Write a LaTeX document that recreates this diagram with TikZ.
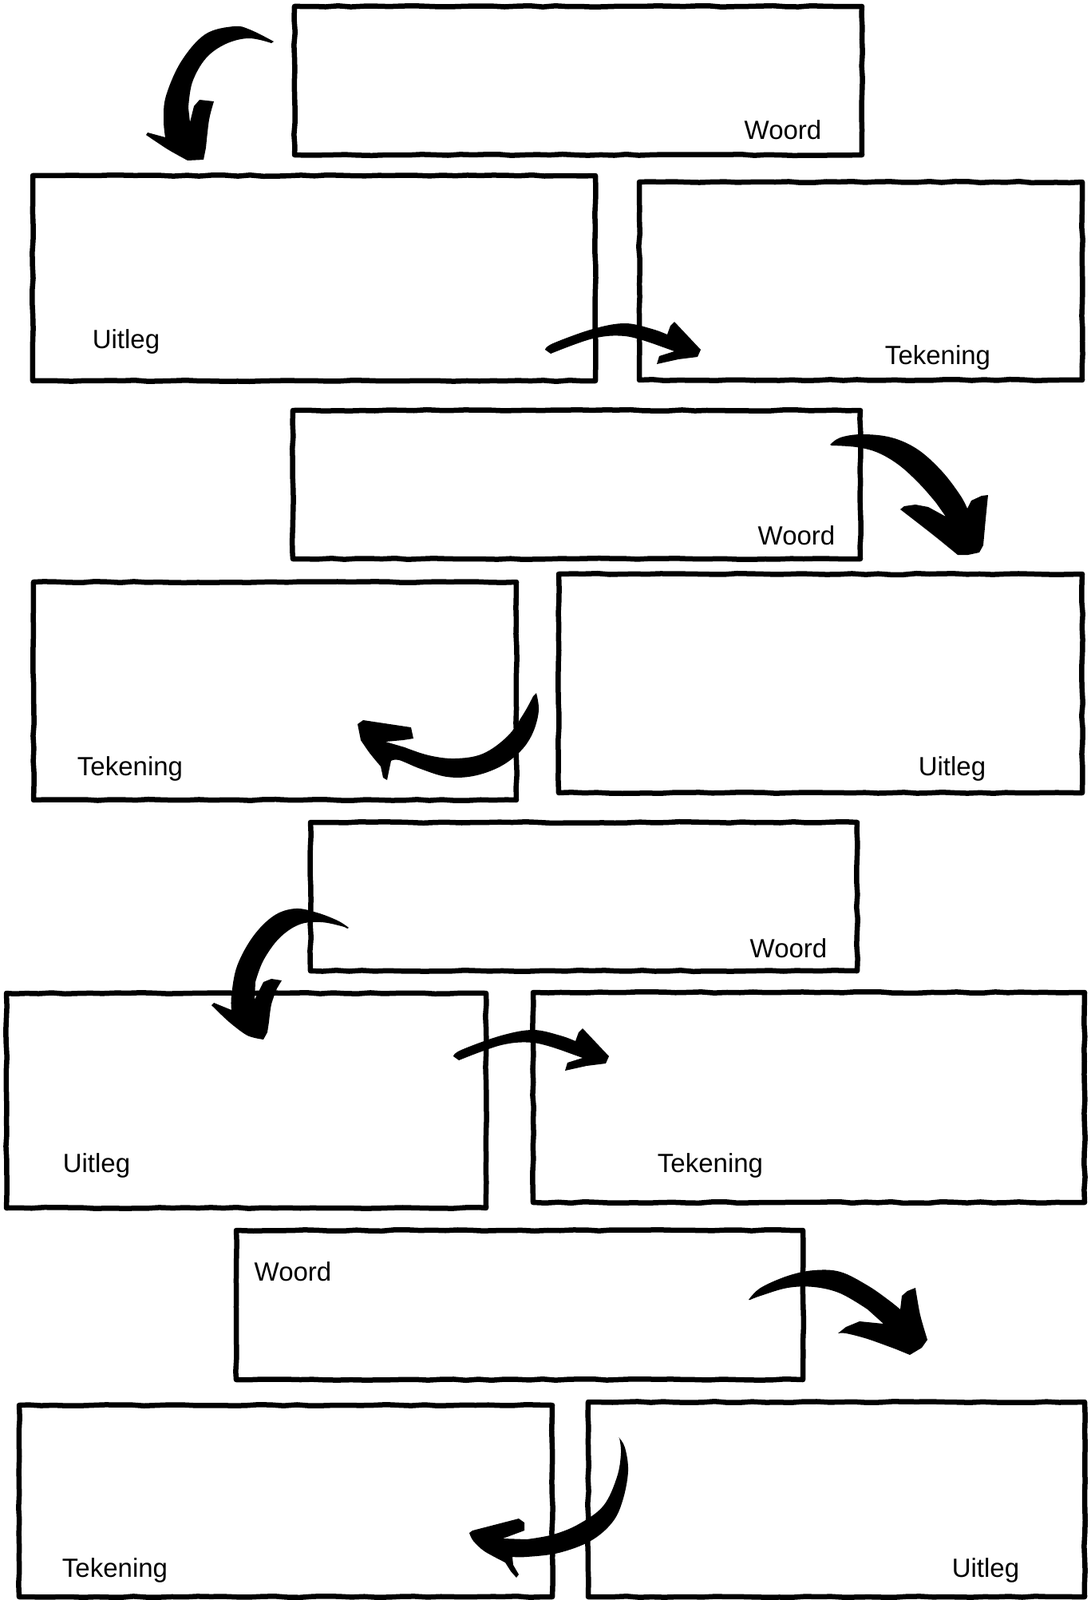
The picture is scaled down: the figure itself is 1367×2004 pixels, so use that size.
\documentclass[tikz,border=0pt]{standalone}
\usepackage{fontspec}
\setmainfont{Liberation Sans}
\usetikzlibrary{decorations.pathmorphing}
\tikzset{
  box/.style={draw=black, line width=6.5pt, line join=round, anchor=north west,
    inner sep=0pt, outer sep=0pt, decorate,
    decoration={random steps, segment length=16pt, amplitude=0.8pt}},
  lbl/.style={font=\fontsize{33}{37}\selectfont, inner sep=0pt, text=black},
  brush/.style={fill=black, line join=round}
}
\begin{document}
\begin{tikzpicture}[x=1pt, y=-1pt]
\fill[white] (0,0) rectangle (1367,2004);
\useasboundingbox (0,0) rectangle (1367,2004);

% boxes
\node[box, minimum width=711pt, minimum height=186pt] (b1) at (369,8) {};
\node[box, minimum width=705pt, minimum height=257pt] (b2) at (41,220) {};
\node[box, minimum width=555pt, minimum height=248pt] (b3) at (801,228) {};
\node[box, minimum width=711pt, minimum height=186pt] (b4) at (367,514) {};
\node[box, minimum width=605pt, minimum height=273pt] (b5) at (42,729) {};
\node[box, minimum width=656pt, minimum height=274pt] (b6) at (700,719) {};
\node[box, minimum width=685pt, minimum height=186pt] (b7) at (389,1030) {};
\node[box, minimum width=601pt, minimum height=269pt] (b8) at (8,1244) {};
\node[box, minimum width=691pt, minimum height=263pt] (b9) at (668,1243) {};
\node[box, minimum width=710pt, minimum height=187pt] (b10) at (296,1541) {};
\node[box, minimum width=668pt, minimum height=240pt] (b11) at (24,1760) {};
\node[box, minimum width=622pt, minimum height=244pt] (b12) at (737,1756) {};

% labels
\node[lbl] (t1) at (981,163) {Woord};
\node[lbl] (t2) at (158,428) {Uitleg};
\node[lbl] (t3) at (1175,448) {Tekening};
\node[lbl] (t4) at (998,671) {Woord};
\node[lbl] (t5) at (163,963) {Tekening};
\node[lbl] (t6) at (1193,963) {Uitleg};
\node[lbl] (t7) at (988,1188) {Woord};
\node[lbl] (t8) at (121,1460) {Uitleg};
\node[lbl] (t9) at (890,1460) {Tekening};
\node[lbl] (t10) at (367,1593) {Woord};
\node[lbl] (t11) at (144,1967) {Tekening};
\node[lbl] (t12) at (1235,1967) {Uitleg};

% arrow 1 (top left, hook down)
\fill[brush] plot[smooth, tension=0.6] coordinates {(343,52) (313,37) (293,33) (257,43) (227,77) (208,120) (205,150) (207,172)}
  -- (185,166) -- (183,169)
  -- plot[smooth, tension=0.5] coordinates {(183,169) (210,187) (235,201)}
  -- (255,200)
  -- plot[smooth, tension=0.5] coordinates {(258,185) (262,150) (268,127)}
  -- (250,125) -- (243,133) -- (238,153)
  -- plot[smooth, tension=0.6] coordinates {(236,135) (241,103) (258,73) (283,55) (312,48) (340,54)} -- cycle;

% arrow 2 (between b2 and b3)
\fill[brush] plot[smooth, tension=0.6] coordinates {(683,438) (693,430) (743,412) (783,405) (817,412) (836,419)}
  -- (840,408) -- (845,403) -- (878,438) -- (874,447) -- (850,450) -- (823,456) -- (826,446) -- (845,440)
  -- plot[smooth, tension=0.6] coordinates {(820,431) (783,421) (743,424) (690,443)} -- cycle;

% arrow 3 (right of b4)
\fill[brush] plot[smooth, tension=0.6] coordinates {(1040,557) (1053,548) (1080,544) (1117,548) (1150,563) (1180,590) (1203,620) (1212,637)}
  -- (1217,627) -- (1230,621) -- (1238,620)
  -- plot[smooth, tension=0.5] coordinates {(1238,620) (1235,650) (1232,683)}
  -- (1227,692) -- (1213,695) -- (1200,695)
  -- plot[smooth, tension=0.5] coordinates {(1200,695) (1173,673) (1150,655) (1128,638)}
  -- (1133,634) -- (1147,632) -- (1163,635) -- (1185,647)
  -- plot[smooth, tension=0.6] coordinates {(1173,630) (1153,607) (1127,583) (1100,567) (1073,560) (1042,558)} -- cycle;

% arrow 4 (b5/b6, pointing left)
\fill[brush] plot[smooth, tension=0.6] coordinates {(672,868) (675,890) (668,917) (653,940) (627,960) (593,972) (560,973) (527,963) (500,952) (490,953)}
  -- (487,967) -- (485,977) -- (480,974) -- (477,960)
  -- plot[smooth, tension=0.5] coordinates {(477,960) (463,943) (452,927)}
  -- (448,907) -- (455,902) -- (515,911) -- (518,925) -- (505,927) -- (483,929)
  -- plot[smooth, tension=0.6] coordinates {(507,936) (537,946) (570,950) (605,944) (636,922) (656,894) (668,872)} -- cycle;

% arrow 5 (left of b7, hook down)
\fill[brush] plot[smooth, tension=0.6] coordinates {(437,1162) (423,1153) (397,1143) (370,1138) (343,1147) (317,1173) (297,1210) (290,1247) (290,1265)}
  -- (268,1256) -- (265,1259)
  -- plot[smooth, tension=0.5] coordinates {(265,1259) (287,1280) (310,1297) (330,1302)}
  -- (335,1293)
  -- plot[smooth, tension=0.5] coordinates {(337,1280) (340,1258) (347,1238)}
  -- (353,1228) -- (340,1226) -- (330,1230) -- (319,1252)
  -- plot[smooth, tension=0.6] coordinates {(320,1230) (330,1203) (350,1175) (375,1158) (402,1155) (428,1160) (435,1163)} -- cycle;

% arrow 6 (between b8 and b9)
\begin{scope}[shift={(-115,885)}]
\fill[brush] plot[smooth, tension=0.6] coordinates {(683,438) (693,430) (743,412) (783,405) (817,412) (836,419)}
  -- (840,408) -- (845,403) -- (878,438) -- (874,447) -- (850,450) -- (823,456) -- (826,446) -- (845,440)
  -- plot[smooth, tension=0.6] coordinates {(820,431) (783,421) (743,424) (690,443)} -- cycle;
\end{scope}

% arrow 7 (right of b10)
\fill[brush] plot[smooth, tension=0.6] coordinates {(938,1628) (953,1613) (987,1598) (1020,1591) (1053,1593) (1087,1610) (1113,1628) (1128,1640)}
  -- (1130,1623) -- (1137,1617) -- (1147,1613)
  -- plot[smooth, tension=0.5] coordinates {(1147,1613) (1153,1647) (1162,1678)}
  -- (1155,1688) -- (1140,1697) -- (1123,1690)
  -- plot[smooth, tension=0.5] coordinates {(1123,1690) (1087,1677) (1060,1670) (1050,1670)}
  -- (1060,1662) -- (1077,1655) -- (1107,1658)
  -- plot[smooth, tension=0.6] coordinates {(1087,1640) (1053,1620) (1020,1612) (987,1613) (953,1623) (940,1628)} -- cycle;

% arrow 8 (b11/b12, pointing left)
\fill[brush] plot[smooth, tension=0.6] coordinates {(775,1800) (783,1813) (787,1843) (780,1880) (767,1907) (740,1930) (700,1945) (660,1950) (642,1950)}
  -- (643,1960) -- (650,1972) -- (647,1976) -- (640,1968) -- (633,1957)
  -- plot[smooth, tension=0.5] coordinates {(633,1957) (607,1943) (593,1930) (588,1920)}
  -- (592,1917) -- (650,1902) -- (657,1907) -- (657,1917) -- (630,1927)
  -- plot[smooth, tension=0.6] coordinates {(660,1928) (693,1922) (725,1909) (756,1886) (773,1850) (778,1820) (776,1801)} -- cycle;

\end{tikzpicture}
\end{document}
